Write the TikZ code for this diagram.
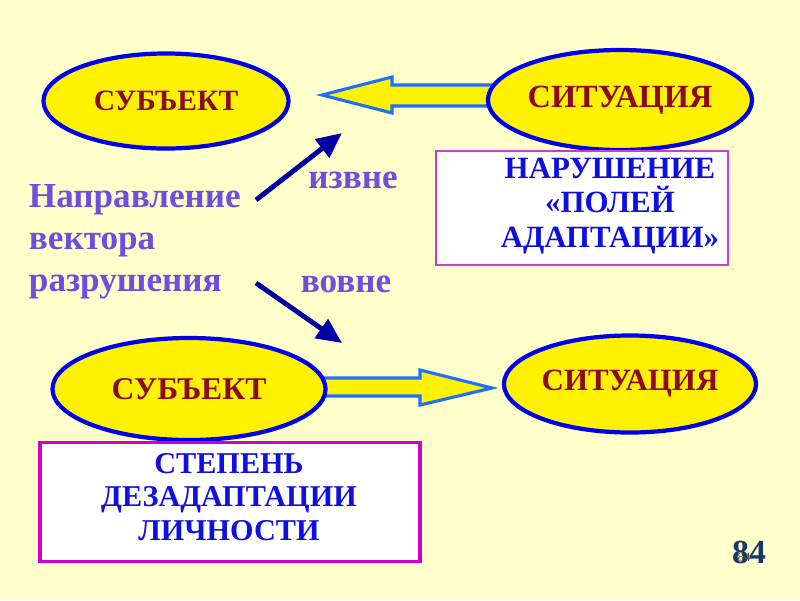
\documentclass[tikz,border=0pt]{standalone}
\usepackage{fontspec}
\setmainfont{Liberation Serif}
\usepackage{tikz}
\usetikzlibrary{arrows.meta,shapes.geometric}
\definecolor{fondo}{RGB}{255,255,204}
\definecolor{ovalblue}{RGB}{0,0,235}
\definecolor{darkred}{RGB}{140,10,30}
\definecolor{boxblue}{RGB}{15,15,225}
\definecolor{violeta}{RGB}{105,80,225}
\definecolor{magenta1}{RGB}{205,60,205}
\definecolor{magenta2}{RGB}{205,0,205}
\definecolor{arrowblue}{RGB}{30,110,255}
\definecolor{navyline}{RGB}{0,0,165}
\definecolor{pagenavy}{RGB}{25,55,105}
\pgfdeclarelayer{bg}
\pgfsetlayers{bg,main}

\begin{document}
\begin{tikzpicture}[
    x=0.025cm, y=-0.025cm,
    oval/.style={ellipse, draw=ovalblue, line width=3pt, fill=yellow, text=darkred,
      inner sep=0pt, font=\fontsize{21}{24}\selectfont\bfseries},
    infobox/.style={rectangle, fill=white, inner sep=0pt},
    boxtext/.style={text=boxblue, align=center, inner sep=0pt,
      font=\fontsize{22}{24.5}\selectfont\bfseries},
    purpletext/.style={text=violeta, font=\fontsize{25}{30}\selectfont\bfseries},
    blockarrow/.style={draw=arrowblue, line width=2.2pt, fill=yellow, line join=miter},
    thinarrow/.style={draw=navyline, line width=3.5pt, -{Triangle[length=18pt,width=16pt]}},
    >=Stealth
  ]
    \node[oval, minimum width=6.125cm, minimum height=2.375cm] (subj1) at (166,101) {СУБЪЕКТ};
    \node[oval, minimum width=6.6cm, minimum height=2.5cm,
      font=\fontsize{23}{24}\selectfont\bfseries] (sit1) at (620,100) {СИТУАЦИЯ};
    \node[oval, minimum width=6.825cm, minimum height=2.55cm,
      font=\fontsize{22.5}{24}\selectfont\bfseries] (subj2) at (189,389) {СУБЪЕКТ};
    \node[oval, minimum width=6.3cm, minimum height=2.425cm,
      font=\fontsize{22}{24}\selectfont\bfseries] (sit2) at (630,384) {СИТУАЦИЯ};

    \node[infobox, draw=magenta1, line width=1.4pt, minimum width=7.275cm, minimum height=2.85cm]
      (violation) at (582,208) {};
    \node[boxtext] (violationtext) at (610,206) {НАРУШЕНИЕ\\«ПОЛЕЙ\\АДАПТАЦИИ»};
    \node[infobox, draw=magenta2, line width=2.8pt, minimum width=9.5cm, minimum height=2.975cm]
      (degree) at (230,502) {};
    \node[boxtext, font=\fontsize{21.5}{24}\selectfont\bfseries] (degreetext) at (229,497)
      {СТЕПЕНЬ\\ДЕЗАДАПТАЦИИ\\ЛИЧНОСТИ};

    \node[purpletext, anchor=west, align=left] (direction) at (24,242) {Направление\\вектора\\разрушения};
    \node[purpletext] (inward) at (353,180) {извне};
    \node[purpletext] (outward) at (346,284) {вовне};

    \node[font=\fontsize{24}{24}\selectfont\bfseries, text=pagenavy] (pagenum) at (749,552) {84};
    \node[font=\fontsize{9}{9}\selectfont, text=black!70] (pagenumsmall) at (744,557) {84};

    % block arrows under the ovals
    \coordinate (tip1) at (322,95);
    \coordinate (tip2) at (492,388);
    \begin{pgfonlayer}{bg}
      \fill[fondo] (0,0) rectangle (800,600);
      \draw[blockarrow] (tip1) -- (392,77) -- (392,85) -- (sit1.center |- 0,85)
        -- (sit1.center |- 0,106) -- (392,106) -- (392,113) -- cycle;
      \draw[blockarrow] (subj2.center |- 0,378) -- (420,378) -- (420,370) -- (tip2)
        -- (420,405) -- (420,396) -- (subj2.center |- 0,396) -- cycle;
    \end{pgfonlayer}

    % direction arrows
    \coordinate (up0) at (256,200);
    \coordinate (up1) at (342,133);
    \coordinate (down0) at (256,283);
    \coordinate (down1) at (342,343);
    \draw[thinarrow] (up0) -- (up1);
    \draw[thinarrow] (down0) -- (down1);
\end{tikzpicture}
\end{document}
